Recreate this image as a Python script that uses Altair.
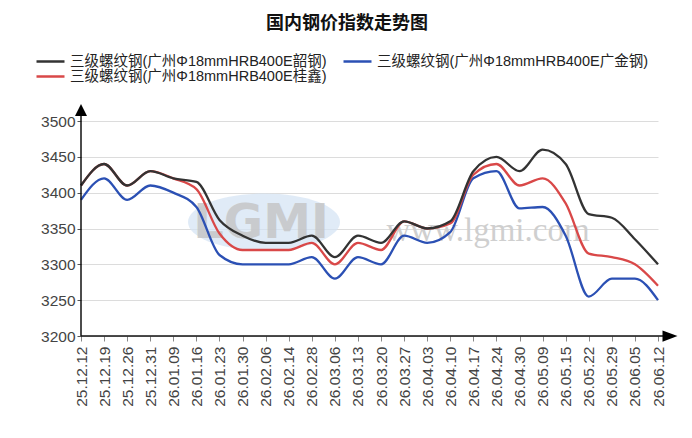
import altair as alt
import pandas as pd

dates = ["25.12.12", "25.12.19", "25.12.26", "25.12.31", "26.01.09", "26.01.16",
         "26.01.23", "26.01.30", "26.02.06", "26.02.14", "26.02.28", "26.03.06",
         "26.03.13", "26.03.20", "26.03.27", "26.04.03", "26.04.10", "26.04.17",
         "26.04.24", "26.04.30", "26.05.09", "26.05.15", "26.05.22", "26.05.29",
         "26.06.05", "26.06.12"]

s_shaogang = [3410, 3440, 3410, 3430, 3420, 3415, 3362, 3340, 3330, 3330, 3340, 3310, 3340,
              3330, 3360, 3350, 3360, 3430, 3450, 3430, 3460, 3440, 3370, 3365, 3335, 3300]
s_guixin = [3410, 3440, 3410, 3430, 3420, 3405, 3343, 3320, 3320, 3320, 3330, 3300, 3330,
            3320, 3360, 3350, 3357, 3425, 3440, 3410, 3420, 3385, 3315, 3310, 3300, 3270]
s_guangjin = [3390, 3420, 3390, 3410, 3400, 3380, 3313, 3300, 3300, 3300, 3310, 3280, 3310,
              3300, 3340, 3330, 3345, 3420, 3430, 3378, 3380, 3340, 3255, 3280, 3280, 3250]

name_sg = "三级螺纹钢(广州Φ18mmHRB400E韶钢)"
name_gj = "三级螺纹钢(广州Φ18mmHRB400E广金钢)"
name_gx = "三级螺纹钢(广州Φ18mmHRB400E桂鑫)"
legend_order = [name_sg, name_gx, name_gj]
legend_colors = ["#333333", "#d94848", "#2b50b4"]
y_ticks = [3200, 3250, 3300, 3350, 3400, 3450, 3500]

rows = []
for name, vals in [(name_sg, s_shaogang), (name_gj, s_guangjin), (name_gx, s_guixin)]:
    for d, v in zip(dates, vals):
        rows.append({"series": name, "date": d, "value": v})
df = pd.DataFrame(rows)

W, H = 577, 215
FONT = "Liberation Sans, Noto Sans CJK SC, sans-serif"

one = alt.Data(values=[{}])

x_enc = alt.X("date:O", sort=dates, title=None,
              scale=alt.Scale(type="point", padding=0),
              axis=alt.Axis(labelAngle=-90, domain=False, grid=False, tickSize=5,
                            tickColor="#888888", labelPadding=5, labelFontSize=15.5,
                            labelFont=FONT, labelColor="#444444"))
y_enc = alt.Y("value:Q", title=None,
              scale=alt.Scale(domain=[3200, 3500], nice=False, zero=False),
              axis=alt.Axis(values=y_ticks, format="d", domain=False, grid=True,
                            gridColor="#dcdcdc", gridWidth=1, tickSize=4,
                            tickColor="#555555", labelPadding=2,
                            labelFontSize=15.5, labelFont=FONT, labelColor="#444444"))
color_enc = alt.Color("series:N", title=None,
                      scale=alt.Scale(domain=legend_order, range=legend_colors),
                      legend=alt.Legend(orient="none", legendX=-39, legendY=-68, columns=2,
                                        symbolType="M-2,0H2", symbolSize=196,
                                        symbolStrokeWidth=2.5, labelFontSize=14.5,
                                        labelFont=FONT, labelColor="#222222",
                                        columnPadding=11, rowPadding=0, padding=0,
                                        labelOffset=11, labelLimit=400, gridAlign="each"))

# watermark
logo = alt.Chart(one).mark_point(
    shape="M-1,0A1,0.375,0,1,1,1,0A1,0.375,0,1,1,-1,0Z",
    size=23104, filled=True, color="#d3e2f3", opacity=0.7, strokeWidth=0
).encode(x=alt.value(183), y=alt.value(101))
logo_txt = alt.Chart(one).mark_text(
    text="LGMI", font="DejaVu Sans", fontSize=48, fontWeight="bold",
    color="#c4c4c4", opacity=0.8, baseline="middle"
).encode(x=alt.value(180), y=alt.value(103))
www_txt = alt.Chart(one).mark_text(
    text="www.lgmi.com", font="Liberation Serif", fontSize=33,
    color="#cfcfcf", baseline="alphabetic"
).encode(x=alt.value(407), y=alt.value(120))

base = alt.Chart(df)
lines = []
for name in [name_gj, name_gx, name_sg]:
    lines.append(
        base.transform_filter(alt.datum.series == name)
        .mark_line(interpolate="monotone", strokeWidth=2.3)
        .encode(x=x_enc, y=y_enc, color=color_enc)
    )

# axes with arrows
y_axis = alt.Chart(one).mark_rule(color="#111111", strokeWidth=1.5).encode(
    x=alt.value(0), y=alt.value(-5), y2=alt.value(H))
x_axis = alt.Chart(one).mark_rule(color="#111111", strokeWidth=1.5).encode(
    x=alt.value(0), x2=alt.value(582), y=alt.value(H))
y_arrow = alt.Chart(one).mark_point(
    shape="M0,-1L1,1L-1,1Z", size=144, filled=True, color="#000000", opacity=1
).encode(x=alt.value(0), y=alt.value(-11))
x_arrow = alt.Chart(one).mark_point(
    shape="M-1,-0.75L1,0L-1,0.75Z", size=225, filled=True, color="#000000", opacity=1
).encode(x=alt.value(589), y=alt.value(H))

title = alt.Chart(one).mark_text(
    text="国内钢价指数走势图", font="Noto Sans CJK SC", fontSize=18, fontWeight="bold",
    color="#111111", baseline="middle", align="center"
).encode(x=alt.value(266), y=alt.value(-97))

chart = alt.layer(logo, logo_txt, www_txt, *lines, y_axis, x_axis, y_arrow, x_arrow, title).properties(
    width=W, height=H,
    autosize=alt.AutoSizeParams(type="none"),
    padding={"left": 73, "top": 113, "right": 24, "bottom": 92},
    background="white"
).configure_view(stroke=None)

chart.save("out.html", embed_options={"renderer": "svg", "actions": False})
